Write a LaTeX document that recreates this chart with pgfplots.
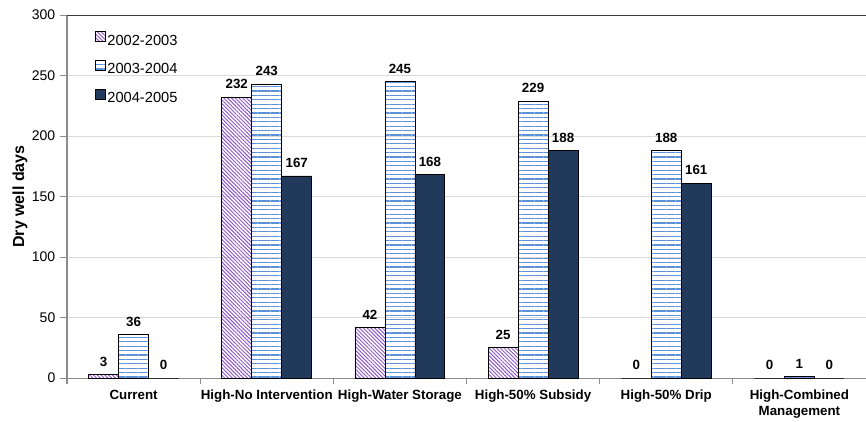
\documentclass[border=0pt]{standalone}
\usepackage{pgfplots}
\pgfplotsset{compat=1.18}
\usepackage{fontspec}
\setmainfont{Liberation Sans}
\usetikzlibrary{patterns.meta}

\definecolor{hatchpurple}{RGB}{140,85,205}
\definecolor{stripeblue}{RGB}{95,145,215}
\definecolor{navy}{RGB}{33,58,92}
\definecolor{axisgray}{RGB}{140,140,140}
\definecolor{gridgray}{RGB}{217,217,217}
\definecolor{frametop}{RGB}{60,60,60}

\begin{document}
\begin{tikzpicture}
\begin{axis}[
  at={(0pt,0pt)}, anchor=south west,
  scale only axis,
  width=599.25pt, height=272.25pt,
  xmin=-0.5, xmax=5.5,
  ymin=0, ymax=300,
  ytick={0,50,...,300},
  xtick={0,...,5},
  xticklabels={Current, High-No Intervention, High-Water Storage,
    High-50\% Subsidy, High-50\% Drip, High-Combined\\[0pt]Management},
  minor xtick={-0.5,0.5,...,5.5},
  tick align=outside,
  major tick length=5.25pt,
  minor tick length=4.5pt,
  major x tick style={draw=none},
  minor x tick style={axisgray, line width=0.75pt},
  major y tick style={axisgray, line width=0.75pt},
  axis x line*=bottom,
  axis y line*=left,
  axis line style={axisgray, line width=0.75pt, -},
  ymajorgrids,
  grid style={gridgray, line width=0.75pt},
  /pgf/number format/assume math mode=true,
  yticklabel style={font=\fontsize{10.5}{12}\selectfont},
  xticklabel style={font=\bfseries\fontsize{10}{12}\selectfont, align=center},
  every axis y label/.style={at={(axis description cs:0,0.5)}, rotate=90,
    anchor=center, yshift=35.25pt},
  ylabel={\bfseries\fontsize{12}{14}\selectfont Dry well days},
  ybar, bar width=0.225,
  nodes near coords,
  every node near coord/.append style={font=\bfseries\fontsize{10}{11}\selectfont,
    yshift=2.5pt},
  legend style={at={(rel axis cs:0.0345,0.955)}, anchor=north west,
    draw=none, fill=none, inner sep=0pt, outer sep=0pt,
    row sep=8.6pt, column sep=0pt,
    nodes={inner sep=0pt, text height=8pt, text depth=2.5pt,
      font=\fontsize{11}{13}\selectfont}},
  legend cell align=left,
  legend image code/.code={\draw[#1] (0pt,-0.2pt) rectangle (7.5pt,7.3pt);},
]
% 2002-2003
\addplot[bar shift=-0.225, draw=black, line width=0.6pt,
  pattern={Lines[angle=-45, distance=2pt, line width=0.7pt]},
  pattern color=hatchpurple]
  coordinates {(0,3) (1,232) (2,42) (3,25) (4,0) (5,0)};
% 2003-2004
\addplot[bar shift=0, draw=black, line width=0.6pt,
  pattern={Lines[angle=0, distance=3.3pt, line width=0.8pt]},
  pattern color=stripeblue]
  coordinates {(0,36) (1,243) (2,245) (3,229) (4,188) (5,1)};
% 2004-2005
\addplot[bar shift=0.225, draw=black, line width=0.6pt, fill=navy]
  coordinates {(0,0) (1,167) (2,168) (3,188) (4,161) (5,0)};
\legend{\hspace{1.5pt}2002-2003, \hspace{1.5pt}2003-2004, \hspace{1.5pt}2004-2005}
% frame line along the top of the plot area
\draw[frametop, line width=1.2pt] (rel axis cs:0,1) -- (rel axis cs:1,1);
\end{axis}
\pgfresetboundingbox
\path (-50.25pt,-32.25pt) rectangle (599.25pt,283.5pt);
\end{tikzpicture}
\end{document}
